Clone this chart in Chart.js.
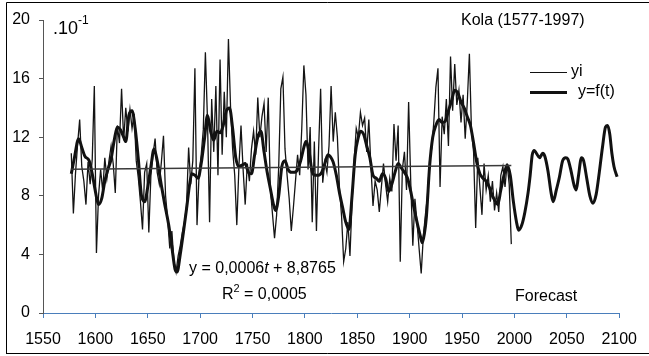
<!DOCTYPE html>
<html>
<head>
<meta charset="utf-8">
<script src="https://cdn.jsdelivr.net/npm/chart.js@4"></script>
<style>
  html, body { margin: 0; padding: 0; background: #fff; }
  canvas { display: block; }
</style>
</head>
<body>
<canvas id="kolaChart" width="649" height="356"></canvas>
<script>
// observed series yi, one value every 2 years from 1577 to 1997
const yiStart = 1577;
const yiValues = [
  10.9, 6.8, 9.5, 11.5, 13.2, 10.0, 9.0, 7.4, 10.3, 8.8, 10.5, 15.5, 4.1, 8.0, 9.8, 8.3, 10.6, 9.2, 10.4, 11.4,
  10.2, 8.2, 12.8, 11.6, 15.3, 11.8, 14.0, 12.4, 13.9, 12.6, 13.6, 10.4, 9.2, 7.6, 5.7, 9.6, 10.2, 5.5, 9.4, 10.8,
  11.9, 9.6, 8.8, 10.3, 12.1, 8.0, 6.4, 4.4, 5.6, 3.5, 2.8, 3.9, 4.6, 5.5, 6.2, 7.3, 11.3, 8.8, 10.4, 16.7,
  6.0, 9.5, 10.8, 12.5, 17.8, 13.2, 6.2, 14.6, 11.0, 15.5, 9.4, 17.3, 10.8, 15.1, 12.0, 18.7, 14.1, 11.2, 9.4, 6.0,
  10.0, 12.8, 9.8, 7.4, 10.2, 9.0, 11.2, 12.4, 10.8, 14.7, 12.0, 13.4, 14.3, 11.0, 14.7, 8.5, 6.8, 5.1, 6.7, 10.0,
  15.3, 16.1, 11.2, 9.4, 7.8, 5.6, 7.2, 9.0, 10.8, 9.4, 12.6, 16.9, 14.9, 9.8, 12.7, 6.2, 11.7, 5.6, 11.0, 15.3,
  8.9, 10.3, 9.6, 11.4, 15.5, 11.7, 13.7, 12.0, 8.5, 6.6, 3.5, 4.4, 6.2, 3.9, 7.6, 10.4, 12.6, 12.0, 13.7, 12.8,
  13.3, 11.0, 13.2, 10.0, 7.3, 9.0, 8.4, 6.9, 8.6, 10.2, 8.8, 7.6, 9.2, 8.3, 12.9, 10.4, 12.8, 3.5, 9.8, 11.0,
  8.4, 14.4, 9.0, 4.6, 7.8, 6.2, 4.4, 2.7, 5.2, 6.7, 8.0, 10.4, 11.2, 13.0, 15.4, 16.7, 8.6, 13.4, 12.2, 14.6,
  11.4, 17.5, 13.8, 17.0, 14.2, 15.2, 13.0, 14.9, 11.9, 14.4, 17.7, 12.4, 11.0, 5.8, 10.6, 8.6, 6.7, 10.2, 8.4, 9.4,
  7.6, 9.0, 7.0, 8.2, 6.9, 9.4, 10.0, 8.6, 10.2, 8.8, 4.7
];

// model y=f(t), fitted then forecast to ~2100
const fYears = [
  1577, 1580, 1584, 1587, 1590, 1594, 1597, 1600, 1603, 1606, 1609, 1612, 1615, 1618, 1621, 1624, 1627, 1629, 1632, 1635,
  1638, 1641, 1644, 1647, 1650, 1653, 1656, 1659, 1663, 1666, 1670, 1673, 1676, 1678, 1681, 1684, 1687, 1690, 1692, 1695,
  1698, 1701, 1704, 1707, 1710, 1713, 1716, 1719, 1722, 1725, 1728, 1731, 1734, 1737, 1740, 1743, 1746, 1749, 1752, 1755,
  1758, 1761, 1764, 1767, 1770, 1772, 1775, 1778, 1781, 1784, 1787, 1790, 1793, 1796, 1799, 1801, 1804, 1807, 1810, 1813,
  1816, 1819, 1822, 1825, 1827, 1830, 1833, 1836, 1839, 1842, 1845, 1848, 1851, 1853, 1856, 1859, 1862, 1865, 1868, 1871,
  1874, 1877, 1880, 1883, 1886, 1889, 1892, 1895, 1898, 1901, 1904, 1907, 1910, 1912, 1914, 1916, 1919, 1922, 1925, 1928,
  1931, 1934, 1937, 1940, 1943, 1946, 1949, 1952, 1955, 1958, 1961, 1964, 1967, 1970, 1973, 1976, 1979, 1982, 1984, 1987,
  1990, 1993, 1996, 1999, 2002, 2004, 2007, 2010, 2013, 2015, 2017, 2019, 2021, 2024, 2027, 2029, 2032, 2035, 2037, 2040,
  2043, 2046, 2049, 2051, 2054, 2057, 2059, 2061, 2064, 2066, 2069, 2072, 2075, 2078, 2081, 2084, 2087, 2089, 2091, 2093,
  2095, 2098
];
const fValues = [
  9.5, 10.6, 11.9, 11.3, 10.7, 10.4, 9.5, 8.3, 7.4, 7.8, 9.0, 9.8, 10.5, 11.8, 12.7, 12.5, 12.0, 11.7, 13.5, 13.8,
  12.6, 10.5, 8.0, 7.6, 8.6, 10.0, 11.2, 10.4, 8.7, 7.5, 6.0, 4.5, 3.0, 2.8, 4.0, 5.5, 7.1, 8.8, 9.5, 9.4,
  9.2, 10.2, 11.8, 13.5, 12.4, 11.8, 12.4, 12.3, 12.8, 13.8, 14.0, 12.6, 10.6, 10.0, 10.1, 10.2, 9.6, 9.5, 10.8, 12.0,
  12.4, 11.0, 9.6, 8.5, 7.4, 7.0, 8.0, 10.0, 10.4, 9.8, 9.6, 9.6, 9.8, 10.4, 11.3, 11.7, 11.0, 9.6, 9.4, 9.4,
  9.6, 10.2, 10.8, 10.6, 10.3, 9.4, 8.2, 7.2, 6.2, 5.7, 8.0, 10.8, 12.0, 12.4, 12.2, 11.4, 10.6, 9.4, 9.2, 9.0,
  9.5, 9.2, 8.3, 8.8, 9.6, 10.2, 9.9, 9.6, 9.2, 8.3, 7.2, 6.2, 5.3, 4.8, 5.4, 6.6, 10.0, 12.0, 12.8, 13.2,
  13.0, 13.1, 13.8, 14.5, 15.2, 15.0, 14.4, 14.0, 13.4, 12.8, 11.6, 10.3, 9.5, 9.2, 9.0, 8.6, 8.0, 7.6, 7.4, 8.4,
  9.4, 10.1, 9.4, 7.6, 6.2, 5.65, 6.0, 6.9, 8.2, 9.4, 10.8, 11.1, 10.9, 10.6, 10.9, 10.7, 9.7, 8.2, 7.6, 8.4,
  9.3, 10.4, 10.6, 10.5, 9.7, 8.7, 8.4, 9.3, 10.6, 10.4, 9.2, 8.0, 7.5, 8.1, 9.6, 11.3, 12.7, 12.8, 12.2, 10.9,
  10.0, 9.3
];

// linear trend y = 0,0006t + 8,8765 over the observed span
const trendYears = [1577, 1997];
const trendValues = [9.82, 10.07];

const xTicks = [1550, 1600, 1650, 1700, 1750, 1800, 1850, 1900, 1950, 2000, 2050, 2100];
const yTicks = [0, 4, 8, 12, 16, 20];

const yiPoints = yiValues.map((v, i) => ({ x: yiStart + 2 * i, y: v }));
const fPoints = fValues.map((v, i) => ({ x: fYears[i], y: v }));
const trendPoints = trendValues.map((v, i) => ({ x: trendYears[i], y: v }));

const FONT = '"Liberation Sans", Arial, sans-serif';

const overlay = {
    id: 'overlay',
    afterDraw(chart) {
        const ctx = chart.ctx;
        ctx.save();
        // outer frame
        ctx.strokeStyle = '#000';
        ctx.lineWidth = 1;
        ctx.beginPath();
        ctx.moveTo(6.5, 354);
        ctx.lineTo(6.5, 2.5);
        ctx.lineTo(649, 2.5);
        ctx.moveTo(6.5, 353.5);
        ctx.lineTo(649, 353.5);
        ctx.stroke();

        ctx.fillStyle = '#000';
        ctx.textBaseline = 'alphabetic';
        ctx.textAlign = 'left';
        ctx.font = '18px ' + FONT;
        ctx.fillText('.10', 53, 34);
        const sx = 53 + ctx.measureText('.10').width;
        ctx.font = '12px ' + FONT;
        ctx.fillText('-1', sx, 24);

        ctx.font = '16px ' + FONT;
        ctx.fillText('Kola (1577-1997)', 461, 25);

        // legend
        ctx.strokeStyle = '#111';
        ctx.lineWidth = 1;
        ctx.beginPath();
        ctx.moveTo(530, 72.5);
        ctx.lineTo(567, 72.5);
        ctx.stroke();
        ctx.lineWidth = 3;
        ctx.beginPath();
        ctx.moveTo(530, 92.5);
        ctx.lineTo(567, 92.5);
        ctx.stroke();
        ctx.textBaseline = 'middle';
        ctx.fillText('yi', 571, 72);
        ctx.fillText('y=f(t)', 578, 92);

        // trend equation
        let x = 189;
        const parts = [['y = 0,0006', ''], ['t', 'italic '], [' + 8,8765', '']];
        parts.forEach(([s, style]) => {
            ctx.font = style + '16px ' + FONT;
            ctx.fillText(s, x, 269);
            x += ctx.measureText(s).width;
        });
        ctx.font = '16px ' + FONT;
        ctx.fillText('R', 222, 295);
        const rx = 222 + ctx.measureText('R').width;
        ctx.font = '11px ' + FONT;
        ctx.fillText('2', rx, 289);
        ctx.font = '16px ' + FONT;
        ctx.fillText(' = 0,0005', rx + 6, 295);

        ctx.fillText('Forecast', 515, 297);
        ctx.restore();
    }
};

new Chart(document.getElementById('kolaChart'), {
    type: 'line',
    data: {
        datasets: [
            {
                label: 'trend',
                data: trendPoints,
                borderColor: '#3a3a3a',
                borderWidth: 1.5,
                pointRadius: 0,
                tension: 0
            },
            {
                label: 'yi',
                data: yiPoints,
                borderColor: '#141414',
                borderWidth: 1.3,
                pointRadius: 0,
                tension: 0
            },
            {
                label: 'y=f(t)',
                data: fPoints,
                borderColor: '#111',
                borderWidth: 3,
                pointRadius: 0,
                cubicInterpolationMode: 'monotone'
            }
        ]
    },
    options: {
        responsive: false,
        animation: false,
        layout: { padding: { left: 0, top: 20, right: 22, bottom: 0 } },
        plugins: {
            legend: { display: false },
            tooltip: { enabled: false }
        },
        scales: {
            x: {
                type: 'linear',
                min: 1550,
                max: 2100,
                afterFit: (scale) => { scale.height = 43; },
                afterBuildTicks: (scale) => { scale.ticks = xTicks.map(v => ({ value: v })); },
                ticks: {
                    autoSkip: false,
                    maxRotation: 0,
                    padding: 12,
                    color: '#000',
                    font: { family: FONT, size: 16 },
                    callback: (v) => String(v)
                },
                grid: {
                    drawOnChartArea: false,
                    drawTicks: true,
                    tickLength: 5,
                    color: '#4a7ebb'
                },
                border: { display: true, color: '#4a7ebb', width: 1 }
            },
            y: {
                min: 0,
                max: 20,
                afterFit: (scale) => { scale.width = 43; },
                afterBuildTicks: (scale) => { scale.ticks = yTicks.map(v => ({ value: v })); },
                ticks: {
                    autoSkip: false,
                    padding: 9,
                    color: '#000',
                    font: { family: FONT, size: 16 },
                    callback: (v) => String(v)
                },
                grid: {
                    drawOnChartArea: false,
                    drawTicks: true,
                    tickLength: 4,
                    color: '#555'
                },
                border: { display: true, color: '#555', width: 1 }
            }
        }
    },
    plugins: [overlay]
});
</script>
</body>
</html>
